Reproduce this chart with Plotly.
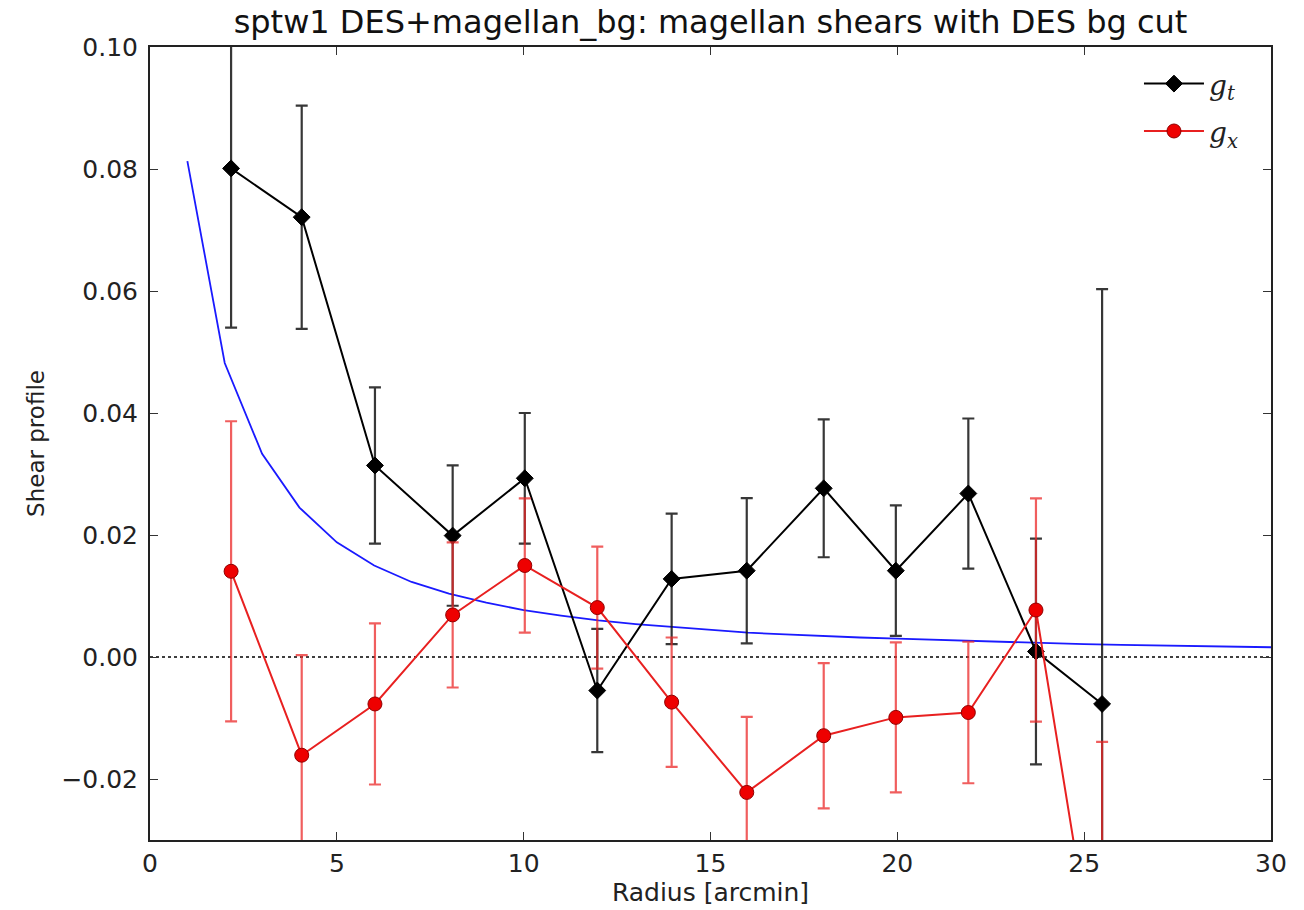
import plotly.graph_objects as go

# ---- data ----
gt_x = [2.17, 4.06, 6.02, 8.10, 10.03, 11.97, 13.96, 15.97, 18.03, 19.96, 21.90, 23.71, 25.48]
gt_y = [0.0801, 0.0721, 0.0314, 0.0199, 0.0293, -0.0055, 0.0128, 0.01415, 0.02765, 0.01415, 0.0268, 0.0009, -0.0077]
gt_err = [0.0261, 0.0183, 0.0128, 0.0115, 0.0107, 0.0101, 0.0107, 0.0119, 0.0113, 0.0107, 0.0123, 0.0185, 0.0680]

gx_x = [2.17, 4.06, 6.02, 8.10, 10.03, 11.97, 13.96, 15.97, 18.03, 19.96, 21.90, 23.71, 25.48]
gx_y = [0.01405, -0.0161, -0.0077, 0.0069, 0.0150, 0.0081, -0.0074, -0.0222, -0.0129, -0.0099, -0.0091, 0.0077, -0.0590]
gx_err = [0.0246, 0.0164, 0.0132, 0.0119, 0.0110, 0.0100, 0.0106, 0.0124, 0.0119, 0.0123, 0.0116, 0.0183, 0.0451]

model_x = list(range(1, 31))
model_y = [0.0813, 0.0482, 0.0333, 0.0245, 0.0188, 0.0150, 0.0123, 0.0104, 0.0089, 0.0077,
           0.0068, 0.0060, 0.0054, 0.0049, 0.0044, 0.0040, 0.0037, 0.0034, 0.0032, 0.0030,
           0.0028, 0.0026, 0.0024, 0.0023, 0.0021, 0.0020, 0.0019, 0.0018, 0.0017, 0.0016]

x_ticks = [0, 5, 10, 15, 20, 25, 30]
y_ticks = [-0.02, 0.00, 0.02, 0.04, 0.06, 0.08, 0.10]

FONT = "DejaVu Sans"

fig = go.Figure()

# zero line (dotted)
fig.add_trace(go.Scatter(x=[0, 30], y=[0, 0], mode="lines",
                         line=dict(color="black", width=1.5, dash="dot"),
                         showlegend=False, hoverinfo="skip"))

# model curve
fig.add_trace(go.Scatter(x=model_x, y=model_y, mode="lines",
                         line=dict(color="#1a1aff", width=1.8),
                         showlegend=False))

# g_t
fig.add_trace(go.Scatter(
    x=gt_x, y=gt_y, mode="lines+markers",
    name="<i>g</i><sub><i>t</i></sub>",
    legendgroup="gt",
    line=dict(color="black", width=2),
    marker=dict(symbol="diamond", size=13, color="black", line=dict(color="black", width=1)),
    error_y=dict(type="data", array=gt_err, color="rgba(20,20,20,0.85)", thickness=2.2, width=6),
))

# g_x
fig.add_trace(go.Scatter(
    x=gx_x, y=gx_y, mode="lines+markers",
    name="<i>g</i><sub><i>x</i></sub>",
    legendgroup="gx",
    line=dict(color="#e82020", width=2),
    marker=dict(symbol="circle", size=14, color="#ee0000", line=dict(color="#900000", width=1)),
    error_y=dict(type="data", array=gx_err, color="rgba(235,40,40,0.75)", thickness=2.2, width=6),
))

axis_common = dict(
    showline=True, linecolor="#222222", linewidth=2, mirror="ticks",
    ticks="inside", ticklen=8, tickwidth=1.2, tickcolor="#333333",
    showgrid=False, zeroline=False,
    tickfont=dict(family=FONT, size=25, color="#222222"),
)

fig.update_layout(
    width=1304, height=910,
    margin=dict(l=150, r=33, t=47, b=70),
    paper_bgcolor="white", plot_bgcolor="white",
    title=dict(text="sptw1 DES+magellan_bg: magellan shears with DES bg cut",
               x=0.5 * (150 + 1271) / 1304, xanchor="center", y=0.976, yanchor="middle",
               font=dict(family=FONT, size=32, color="#111111")),
    xaxis=dict(range=[0, 30], tickvals=x_ticks, ticktext=[str(v) for v in x_ticks],
               title=dict(text="Radius [arcmin]", font=dict(family=FONT, size=25, color="#222222"), standoff=2),
               **axis_common),
    yaxis=dict(range=[-0.03, 0.10], tickvals=y_ticks,
               ticktext=[("\u2212" if v < 0 else "") + f"{abs(v):.2f}" for v in y_ticks],
               ticklabelstandoff=5,
               title=dict(text="Shear profile", font=dict(family=FONT, size=23, color="#222222"), standoff=10),
               **axis_common),
    legend=dict(x=0.975, y=0.985, xanchor="right", yanchor="top",
                bgcolor="rgba(255,255,255,0)", borderwidth=0,
                font=dict(family="DejaVu Serif", size=28, color="#222222"),
                tracegroupgap=8, itemwidth=60),
    showlegend=True,
)

fig.write_html("out.html")
